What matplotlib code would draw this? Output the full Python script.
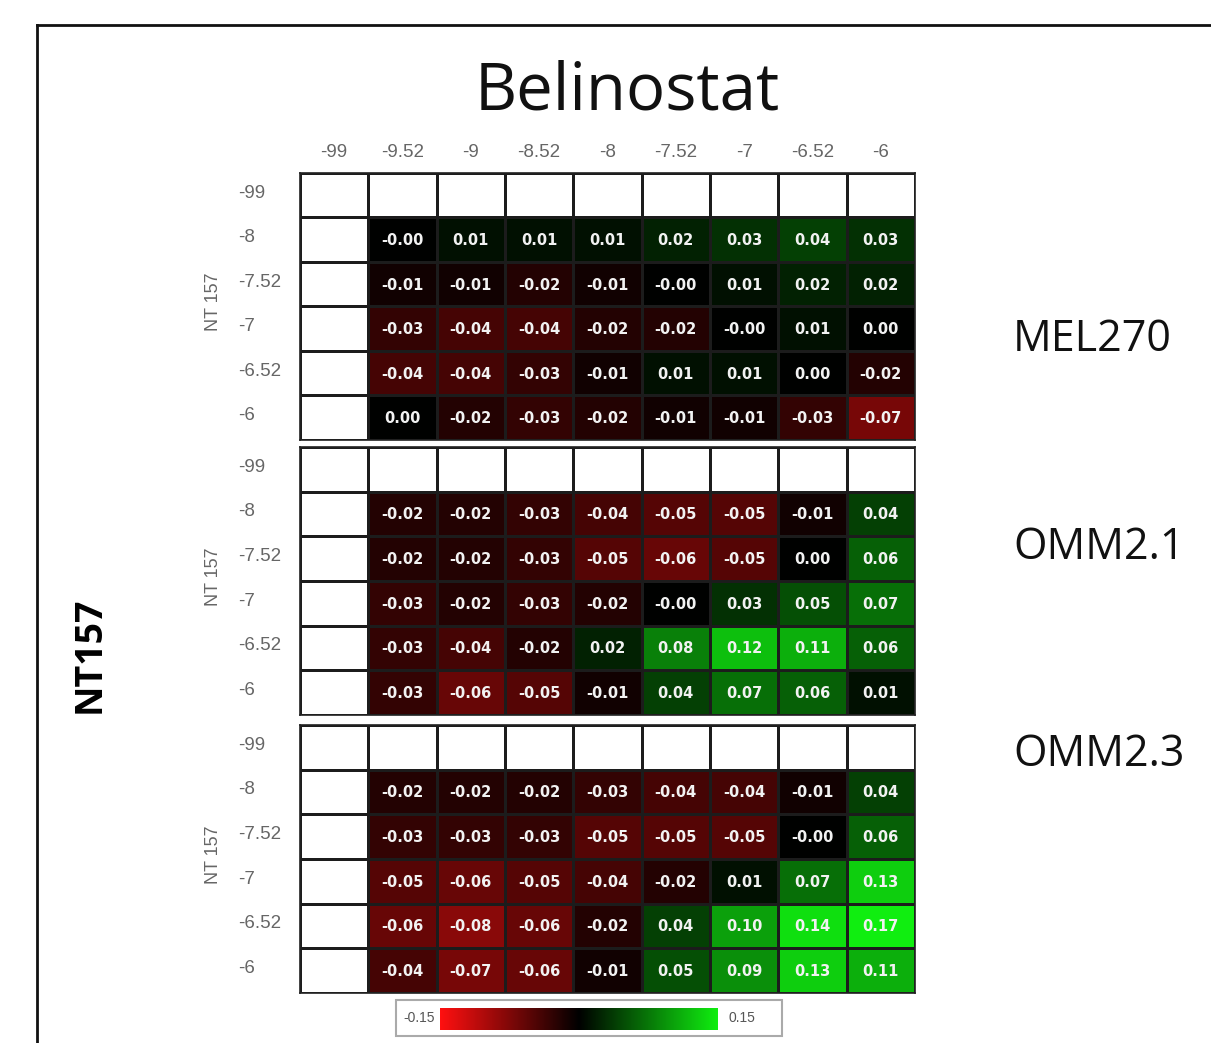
import numpy as np
import matplotlib
matplotlib.use("Agg")
import matplotlib.pyplot as plt
from matplotlib.colors import LinearSegmentedColormap, Normalize
from matplotlib.lines import Line2D
from matplotlib.patches import Rectangle

# belinostat doses (columns) and NT157 doses (rows)
col_labels = ['-99', '-9.52', '-9', '-8.52', '-8', '-7.52', '-7', '-6.52', '-6']
row_labels = ['-99', '-8', '-7.52', '-7', '-6.52', '-6']

# synergy values, rows -8 .. -6, columns -9.52 .. -6
mel270 = [
    [-0.0, 0.01, 0.01, 0.01, 0.02, 0.03, 0.04, 0.03],
    [-0.01, -0.01, -0.02, -0.01, -0.0, 0.01, 0.02, 0.02],
    [-0.03, -0.04, -0.04, -0.02, -0.02, -0.0, 0.01, 0.00],
    [-0.04, -0.04, -0.03, -0.01, 0.01, 0.01, 0.00, -0.02],
    [0.00, -0.02, -0.03, -0.02, -0.01, -0.01, -0.03, -0.07],
]
omm21 = [
    [-0.02, -0.02, -0.03, -0.04, -0.05, -0.05, -0.01, 0.04],
    [-0.02, -0.02, -0.03, -0.05, -0.06, -0.05, 0.00, 0.06],
    [-0.03, -0.02, -0.03, -0.02, -0.0, 0.03, 0.05, 0.07],
    [-0.03, -0.04, -0.02, 0.02, 0.08, 0.12, 0.11, 0.06],
    [-0.03, -0.06, -0.05, -0.01, 0.04, 0.07, 0.06, 0.01],
]
omm23 = [
    [-0.02, -0.02, -0.02, -0.03, -0.04, -0.04, -0.01, 0.04],
    [-0.03, -0.03, -0.03, -0.05, -0.05, -0.05, -0.0, 0.06],
    [-0.05, -0.06, -0.05, -0.04, -0.02, 0.01, 0.07, 0.13],
    [-0.06, -0.08, -0.06, -0.02, 0.04, 0.10, 0.14, 0.17],
    [-0.04, -0.07, -0.06, -0.01, 0.05, 0.09, 0.13, 0.11],
]
cell_lines = ['MEL270', 'OMM2.1', 'OMM2.3']
vmin, vmax = -0.15, 0.15

W, H = 1211, 1043
fig = plt.figure(figsize=(W / 100, H / 100), dpi=100)
fig.patch.set_facecolor('white')


def px_axes(x0, y0, x1, y1):
    return fig.add_axes([x0 / W, 1 - y1 / H, (x1 - x0) / W, (y1 - y0) / H])


cmap = LinearSegmentedColormap.from_list('rg', ['#ff1010', '#000000', '#10ee10'])
cmap.set_bad('white')
norm = Normalize(vmin, vmax)

blocks = [(mel270, 173, 440), (omm21, 447, 715), (omm23, 725, 993)]
gray = '#666666'

for i, (vals, top, bot) in enumerate(blocks):
    ax = px_axes(300, top, 915, bot)
    grid = np.full((len(row_labels), len(col_labels)), np.nan)
    grid[1:, 1:] = np.array(vals)
    ax.pcolormesh(np.ma.masked_invalid(grid), cmap=cmap, norm=norm,
                  edgecolors='#1c1c1c', linewidth=1.0)
    ax.set_xlim(0, len(col_labels))
    ax.set_ylim(len(row_labels), 0)
    ax.set_xticks([])
    ax.set_yticks([])
    for s in ax.spines.values():
        s.set_color('#222222')
        s.set_linewidth(1.2)
    for r in range(1, len(row_labels)):
        for c in range(1, len(col_labels)):
            ax.text(c + 0.5, r + 0.52, f"{grid[r, c]:.2f}", ha='center', va='center',
                    color='#f2f2f2', fontsize=10.5, fontweight='bold', family='DejaVu Sans')
    for r, lab in enumerate(row_labels):
        ax.text(-0.91, r + 0.45, lab, ha='left', va='center', color=gray,
                fontsize=13.5, family='Liberation Sans', clip_on=False)
    ax.text(-1.27, 2.9, 'NT 157', rotation=90, ha='center', va='center',
            color=gray, fontsize=13, family='Liberation Sans', clip_on=False)
    if i == 0:
        for c, lab in enumerate(col_labels):
            ax.text(c + 0.5, -0.47, lab, ha='center', va='center', color=gray,
                    fontsize=13.5, family='Liberation Sans', clip_on=False)

# sample labels on the right
for name, y in zip(cell_lines, [340, 548, 755]):
    fig.text(1013 / W, 1 - y / H, name, ha='left', va='center',
             fontsize=31, family='Open Sans', color='#111111')

fig.text(627 / W, 1 - 92 / H, 'Belinostat', ha='center', va='center',
         fontsize=47, family='Open Sans', color='#111111')
fig.text(90 / W, 1 - 655 / H, 'NT157', rotation=90, ha='center', va='center',
         fontsize=27, family='Open Sans', fontweight='bold', color='black')

# colour scale
fig.add_artist(Rectangle((396 / W, 1 - 1036 / H), 386 / W, 36 / H,
                         transform=fig.transFigure, facecolor='none',
                         edgecolor='#aaaaaa', linewidth=1.5, zorder=-1))
cax = px_axes(440, 1008, 718, 1030)
cax.imshow(np.linspace(vmin, vmax, 256)[None, :], aspect='auto', cmap=cmap, norm=norm)
cax.axis('off')
fig.text(435 / W, 1 - 1018 / H, f"{vmin:.2f}", ha='right', va='center',
         fontsize=10, family='Liberation Sans', color='#555555')
fig.text(729 / W, 1 - 1018 / H, f"{vmax:.2f}", ha='left', va='center',
         fontsize=10, family='Liberation Sans', color='#555555')

# outer frame (cut off at right and bottom)
fig.add_artist(Line2D([37 / W, 1], [1 - 25 / H, 1 - 25 / H], color='#111111', lw=2))
fig.add_artist(Line2D([37 / W, 37 / W], [0, 1 - 25 / H], color='#111111', lw=2))

fig.savefig('out.png', dpi=100)
